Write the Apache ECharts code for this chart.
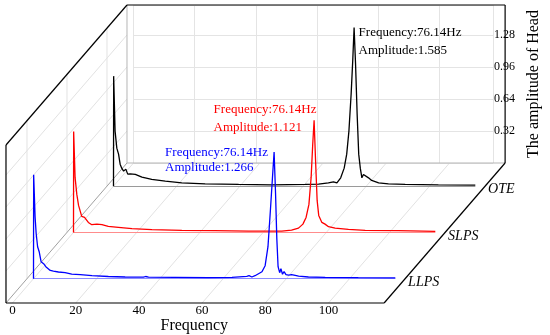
<!DOCTYPE html>
<html><head><meta charset="utf-8">
<script src="https://cdn.jsdelivr.net/npm/echarts@6/dist/echarts.min.js"></script>
<style>html,body{margin:0;padding:0;background:#fff}#c{width:550px;height:335px}</style>
</head><body><div id="c"></div>
<script>
// ---------- data ----------
const seriesNames = ['LLPS', 'SLPS', 'OTE'];
const seriesDepth = [1, 3, 5];
const peakFreq = [76.14, 76.14, 76.14];
const peakAmp = [1.266, 1.121, 1.585];
const xTicks = [0, 20, 40, 60, 80, 100];
const yTicks = [0.32, 0.64, 0.96, 1.28];

const LLPS = [[0,0],[0.05,1.04],[0.5,0.62],[0.85,0.45],[1.3,0.32],[1.8,0.27],[2.1,0.22],[2.4,0.17],[3.2,0.15],[3.9,0.12],[4.5,0.10],[5.3,0.083],[6.3,0.075],[7.9,0.067],[10,0.06],[12.1,0.045],[14.8,0.04],[18.5,0.03],[23.7,0.022],[29,0.017],[34.8,0.015],[35.5,0.022],[36.4,0.015],[44.8,0.013],[55.4,0.01],[62.8,0.013],[67.5,0.023],[68.2,0.03],[69.1,0.017],[70.1,0.03],[71.2,0.05],[72.3,0.07],[73.3,0.13],[74.2,0.32],[75.0,0.7],[75.6,1.0],[76.14,1.266],[76.6,0.85],[77.0,0.4],[77.4,0.12],[77.9,0.06],[78.3,0.1],[78.8,0.045],[79.3,0.07],[79.9,0.04],[80.7,0.035],[81.7,0.04],[83.9,0.025],[87,0.017],[92.3,0.013],[102.8,0.01],[114.5,0.008]];
const SLPS = [[0,0],[0.05,1.01],[0.5,0.55],[1.05,0.38],[1.6,0.27],[2.1,0.25],[2.6,0.16],[3.5,0.15],[3.9,0.17],[4.7,0.1],[5.8,0.077],[7.4,0.083],[9,0.077],[11,0.06],[14.2,0.05],[18.5,0.037],[24.8,0.027],[34.3,0.02],[44.8,0.017],[55.4,0.013],[65.9,0.013],[69,0.023],[71.2,0.043],[72.6,0.083],[73.6,0.15],[74.5,0.28],[75.2,0.55],[75.7,0.88],[76.14,1.121],[76.6,0.72],[77.1,0.32],[77.6,0.17],[78.1,0.15],[78.6,0.1],[79.6,0.083],[80.7,0.057],[82.8,0.043],[87,0.03],[92.3,0.02],[102.8,0.017],[114.5,0.01]];
const OTE = [[0,0],[0.05,1.10],[0.5,0.55],[1.05,0.38],[1.6,0.32],[2.1,0.22],[2.6,0.18],[3.2,0.15],[3.9,0.17],[4.5,0.12],[5.3,0.123],[6.9,0.117],[9,0.09],[12.1,0.067],[16.4,0.05],[21.6,0.033],[29,0.023],[39.6,0.017],[50.1,0.013],[60.7,0.017],[64.9,0.02],[68,0.033],[69.6,0.043],[70.7,0.033],[71.9,0.083],[73,0.18],[73.8,0.32],[74.5,0.55],[75.2,0.92],[75.7,1.25],[76.14,1.585],[76.6,1.22],[77.1,0.72],[77.6,0.32],[78.1,0.18],[78.6,0.083],[79.1,0.117],[79.6,0.11],[80.7,0.083],[81.7,0.057],[83.9,0.033],[87,0.023],[92.3,0.017],[102.8,0.013],[114.5,0.01]];
const seriesData = [LLPS, SLPS, OTE];

// ---------- style / layout ----------
const FONT = '"Liberation Serif", "Times New Roman", serif';
const seriesColors = ['#0000ff', '#ff0000', '#000000'];
const baseColors = ['#8c8cff', '#ff8c8c', '#9a9a9a'];
const labelLayout = [
  { pos: [-108.5, -6], lh: 14.5 },
  { pos: [-100, -19.5], lh: 18.3 },
  { pos: [5, -4], lh: 18.3 }
];
const X0 = 12.5, PXU = 3.16, XMAX = 117.6, XBOX = -2.06;
const YBOX = 1.58, YSER = 1.6, PXY = 100;
const FRONT_BOTTOM = 303, DX = 121, DY = 140, ZMIN = -0.05, ZMAX = 6;
const W = XMAX * PXU;
const frac = z => (z - ZMIN) / (ZMAX - ZMIN);
const gridAt = (f, ymax) => ({ left: X0 + f * DX, top: FRONT_BOTTOM - ymax * PXY - f * DY, width: W, height: ymax * PXY });

const grids = [gridAt(0, YBOX), gridAt(1, YBOX)].concat(seriesDepth.map(z => gridAt(frac(z), YSER)));

const xAxes = grids.map((g, i) => ({
  type: 'value', gridIndex: i, min: 0, max: XMAX, interval: 20, show: i < 2,
  axisLine: { show: false }, axisTick: { show: false },
  splitLine: { show: i === 1, lineStyle: { color: '#e4e4e4', width: 1 } },
  axisLabel: {
    show: i === 0, margin: 1, color: '#000', fontFamily: FONT, fontSize: 13,
    showMaxLabel: false,
    formatter: v => xTicks.indexOf(v) >= 0 ? String(v) : ''
  },
  name: i === 0 ? 'Frequency' : '',
  nameLocation: 'middle', nameGap: 11,
  nameTextStyle: { fontFamily: FONT, fontSize: 16, color: '#000', padding: [0, 8, 0, 0] }
}));

const yAxes = grids.map((g, i) => ({
  type: 'value', gridIndex: i, min: 0, max: i < 2 ? YBOX : YSER, interval: 0.32, show: i === 1,
  position: 'right',
  axisLine: { show: false }, axisTick: { show: false },
  splitLine: { show: i === 1, lineStyle: { color: '#e4e4e4', width: 1 } },
  axisLabel: {
    show: i === 1, margin: 1, color: '#000', fontFamily: FONT, fontSize: 12,
    showMinLabel: false, showMaxLabel: false,
    formatter: v => yTicks.some(t => Math.abs(t - v) < 1e-6) ? v.toFixed(2) : ''
  },
  name: i === 1 ? 'The amplitude of Head' : '',
  nameLocation: 'middle', nameRotate: 90, nameGap: 23,
  nameTextStyle: { fontFamily: FONT, fontSize: 16, color: '#000' }
}));

// box, walls, floor
const boxSeries = {
  type: 'custom', xAxisIndex: 0, yAxisIndex: 0, clip: false, silent: true, z: 1,
  data: [[0, 0]],
  renderItem: function (params, api) {
    const P = (x, y, f) => { const c = api.coord([x, y]); return [c[0] + f * DX, c[1] - f * DY]; };
    const ch = [];
    const L = (a, b, color, w) => ch.push({ type: 'line', shape: { x1: a[0], y1: a[1], x2: b[0], y2: b[1] }, style: { stroke: color, lineWidth: w } });
    const light = '#e2e2e2';
    xTicks.forEach(x => L(P(x, 0, 0), P(x, 0, 1), light, 1));
    yTicks.forEach(y => L(P(XBOX, y, 0), P(XBOX, y, 1), light, 1));
    seriesDepth.forEach(z => { const f = frac(z); L(P(XBOX, 0, f), P(XBOX, YBOX, f), light, 1); });
    L(P(XBOX, 0, 1), P(XBOX, YBOX, 1), '#b5b5b5', 1);
    L(P(XBOX, 0, 1), P(XMAX, 0, 1), '#b5b5b5', 1);
    L(P(XBOX, 0, 0), P(XBOX, 0, 1), '#a0a0a0', 1);
    const k = '#000';
    L(P(XBOX, 0, 0), P(XBOX, YBOX, 0), k, 1.2);
    L(P(XBOX, YBOX, 0), P(XBOX, YBOX, 1), k, 1.2);
    L(P(XBOX, YBOX, 1), P(XMAX, YBOX, 1), k, 1.2);
    L(P(XMAX, YBOX, 1), P(XMAX, 0, 1), k, 1.2);
    L(P(XMAX, 0, 1), P(XMAX, 0, 0), k, 1.2);
    L(P(XBOX, 0, 0), P(XMAX, 0, 0), k, 1.2);
    seriesNames.forEach((n, i) => {
      const p = P(XMAX, 0, frac(seriesDepth[i]));
      ch.push({ type: 'text', x: p[0] + 3, y: p[1] + 3.5,
        style: { text: n, fill: '#000', fontFamily: FONT, fontSize: 14, fontStyle: 'italic', align: 'left', verticalAlign: 'middle' } });
    });
    return { type: 'group', children: ch };
  }
};

const lineSeries = [2, 1, 0].map(i => ({
  type: 'line', name: seriesNames[i], xAxisIndex: i + 2, yAxisIndex: i + 2,
  data: seriesData[i], showSymbol: false, symbol: 'none', z: 3,
  lineStyle: { color: seriesColors[i], width: 1.3 },
  markLine: {
    silent: true, symbol: 'none', z: 2,
    label: { show: false },
    lineStyle: { color: baseColors[i], width: 1.2, type: 'solid' },
    data: [[{ coord: [seriesData[i][0][0], 0] }, { coord: [seriesData[i][seriesData[i].length - 1][0], 0] }]]
  },
  markPoint: {
    silent: true, symbol: 'circle', symbolSize: 1, itemStyle: { color: 'rgba(0,0,0,0)' },
    data: [{ coord: [peakFreq[i], peakAmp[i]] }],
    label: {
      show: true, position: labelLayout[i].pos, align: 'left', verticalAlign: 'top',
      lineHeight: labelLayout[i].lh, fontFamily: FONT, fontSize: 13, color: seriesColors[i],
      formatter: 'Frequency:' + peakFreq[i] + 'Hz\nAmplitude:' + peakAmp[i]
    }
  }
}));

const chart = echarts.init(document.getElementById('c'), null, { renderer: 'canvas' });
chart.setOption({
  animation: false,
  backgroundColor: '#fff',
  grid: grids,
  xAxis: xAxes,
  yAxis: yAxes,
  series: [boxSeries].concat(lineSeries)
});
</script>
</body></html>
